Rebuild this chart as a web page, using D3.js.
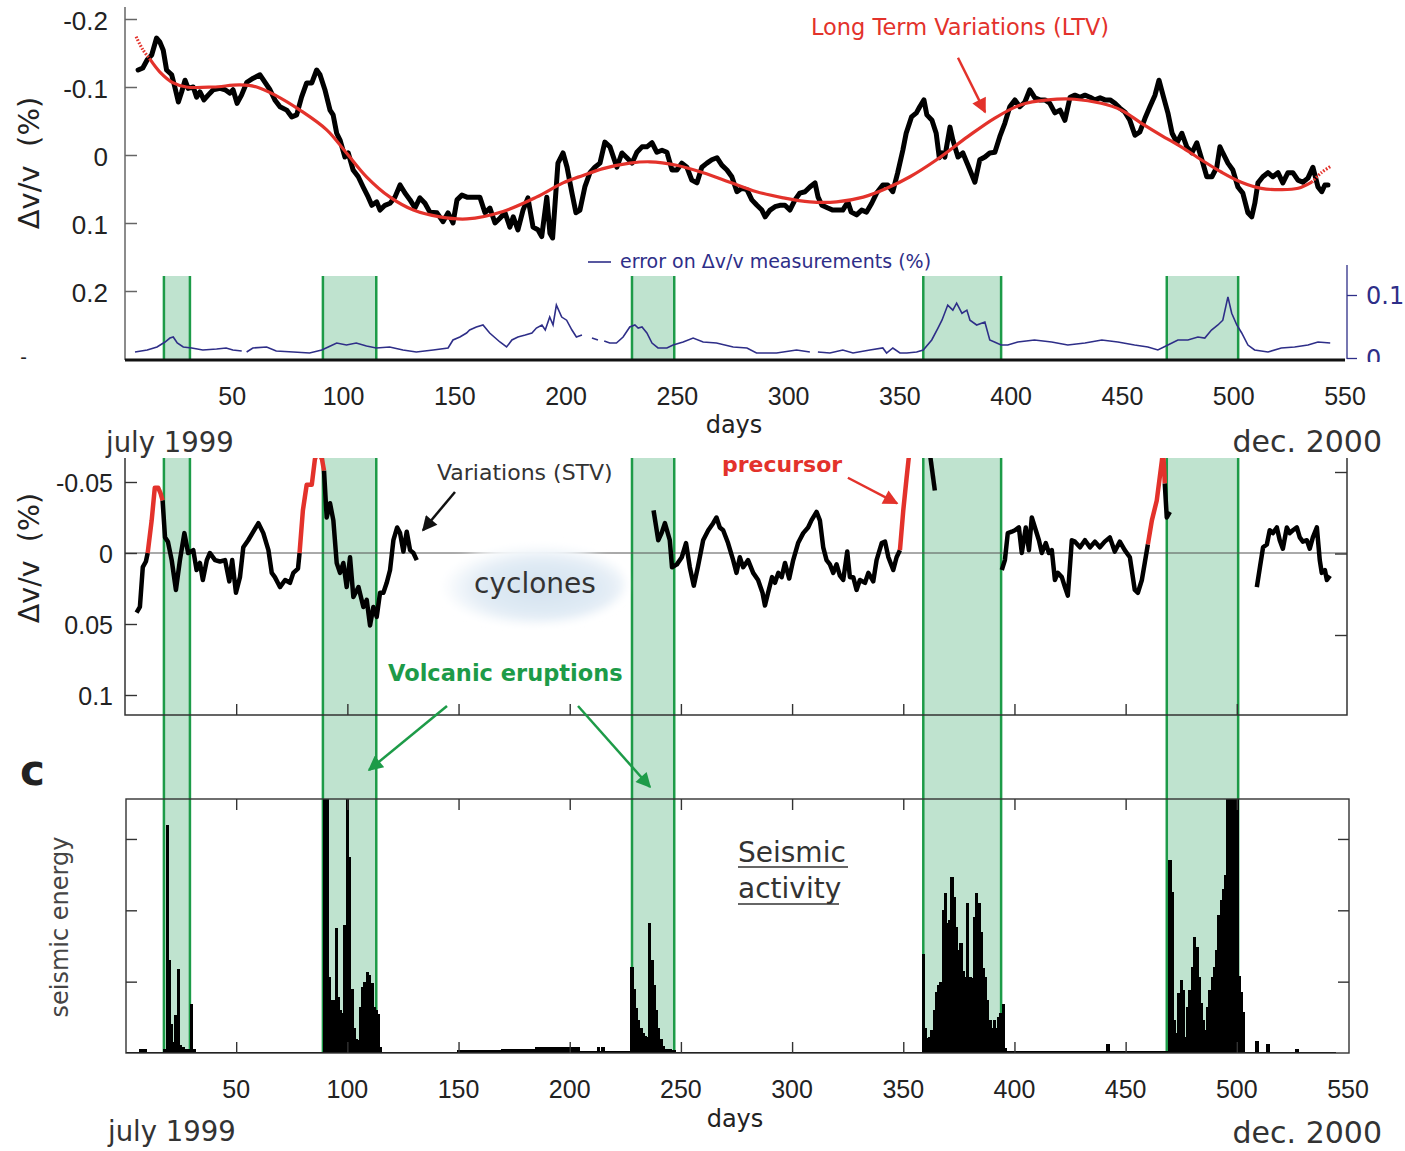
<!DOCTYPE html>
<html>
<head>
<meta charset="utf-8">
<script src="https://cdn.jsdelivr.net/npm/d3@7"></script>
<style>
  body { margin: 0; background: #fff; }
  svg { display: block; }
</style>
</head>
<body>
<svg id="chart"></svg>
<script>
// ---------- data ----------
const dayTicks = [50, 100, 150, 200, 250, 300, 350, 400, 450, 500, 550];
const topYTicks = [-0.2, -0.1, 0, 0.1, 0.2];
const midYTicks = [-0.05, 0, 0.05, 0.1];

// volcanic eruption periods [start day, end day]
const eruptions = [[17.5, 29.2], [89, 113], [228, 247], [359, 394], [468.5, 500.6]];

// dv/v measurements (%) [day, value]
const dvv = [[5.9,-0.125],[8,-0.128],[10,-0.14],[12,-0.147],[14.2,-0.172],[15.7,-0.166],[17.2,-0.154],[18.7,-0.125],[21,-0.118],[22.4,-0.1],[24,-0.078],[25.5,-0.093],[27,-0.11],[28.4,-0.098],[30.7,-0.1],[32.2,-0.085],[33.7,-0.093],[35.5,-0.081],[37.4,-0.088],[39.7,-0.096],[42.7,-0.098],[45,-0.096],[47.2,-0.091],[48.6,-0.096],[50.4,-0.076],[52.4,-0.088],[54.8,-0.107],[57.7,-0.113],[60.7,-0.118],[62.9,-0.107],[65.2,-0.096],[67.4,-0.081],[69.7,-0.071],[72.7,-0.066],[75,-0.056],[77.2,-0.059],[79.4,-0.085],[81.7,-0.106],[84,-0.106],[86.2,-0.125],[87.7,-0.118],[89.9,-0.096],[92.2,-0.066],[93.6,-0.059],[95.2,-0.032],[96.7,-0.022],[98.9,0.003],[100.4,-0.003],[102.6,0.022],[104.9,0.032],[107.1,0.047],[109.4,0.062],[111,0.074],[113.2,0.069],[114.7,0.081],[116.9,0.074],[119.2,0.071],[121.4,0.062],[123.7,0.044],[125.9,0.056],[128.2,0.066],[130.4,0.078],[132.6,0.063],[134.9,0.071],[137.1,0.084],[140.3,0.085],[143,0.098],[145.3,0.085],[147.5,0.1],[149.3,0.066],[151.5,0.059],[153.8,0.062],[157,0.062],[159.6,0.062],[161.9,0.085],[164.1,0.078],[166.4,0.1],[168.6,0.093],[170.9,0.085],[173.1,0.106],[174.6,0.091],[176.7,0.11],[179,0.081],[181.2,0.063],[183.5,0.106],[185.7,0.11],[187.4,0.12],[189.7,0.062],[191.1,0.115],[192.3,0.122],[194.7,0.012],[197,-0.003],[198.8,0.018],[201,0.056],[202.8,0.085],[204.6,0.081],[206.8,0.047],[209.1,0.026],[211.3,0.018],[213.6,0.012],[215.8,-0.019],[218.1,-0.012],[221.2,0.018],[223.5,-0.003],[225.7,0.004],[228,0.012],[230.2,-0.004],[232.5,-0.012],[234.7,-0.012],[237,-0.018],[239.2,-0.004],[241.5,-0.007],[243.7,-0.004],[246,0.022],[248.2,0.022],[250.4,0.012],[252.7,0.018],[254.9,0.037],[257.2,0.041],[259.4,0.018],[261.7,0.012],[263.9,0.007],[266.2,0.004],[268.4,0.015],[270.7,0.022],[272.9,0.032],[275.2,0.054],[277.4,0.049],[279.7,0.051],[281.9,0.066],[284.2,0.074],[286.4,0.081],[287.9,0.091],[290.1,0.081],[292.3,0.076],[294.5,0.074],[296.8,0.074],[299,0.081],[301.3,0.066],[303.5,0.056],[305.8,0.054],[308,0.047],[310.3,0.041],[311.7,0.062],[313.4,0.074],[316.1,0.078],[318.3,0.081],[320.6,0.081],[322.8,0.081],[325.1,0.069],[326.6,0.084],[329,0.088],[331.3,0.081],[333.5,0.084],[335.8,0.071],[338,0.056],[340.8,0.044],[343,0.044],[345.3,0.054],[347.5,0.026],[349.8,-0.007],[351.3,-0.032],[353.7,-0.056],[355.9,-0.062],[357.4,-0.071],[359.3,-0.081],[360.6,-0.059],[362.9,-0.051],[364.8,-0.032],[366.2,0.004],[367.5,-0.003],[368.7,0.003],[371,-0.041],[372.3,-0.022],[374.6,0.003],[376.8,-0.003],[379.1,0.015],[382.2,0.04],[384.4,0.007],[386.7,0.003],[388.9,-0.003],[391.2,-0.004],[393.4,-0.027],[395.7,-0.047],[397.9,-0.071],[400.2,-0.081],[402.4,-0.071],[404.7,-0.078],[406.9,-0.096],[409.2,-0.084],[411.4,-0.081],[413.7,-0.081],[415.9,-0.076],[418.2,-0.062],[420.5,-0.066],[422.7,-0.051],[425,-0.085],[427.2,-0.088],[429.5,-0.085],[431.7,-0.088],[434,-0.085],[436.2,-0.081],[438.5,-0.084],[440.7,-0.081],[443,-0.081],[445.2,-0.076],[447.4,-0.069],[449.7,-0.063],[451.9,-0.051],[454.2,-0.029],[456.4,-0.034],[458.7,-0.054],[460.9,-0.071],[463.2,-0.088],[465,-0.11],[466.8,-0.088],[469,-0.062],[470.9,-0.032],[473.1,-0.018],[475.3,-0.032],[477.5,-0.012],[479.8,-0.003],[482,-0.018],[484.3,0.007],[486.5,0.032],[488.8,0.032],[491,0.018],[492.4,-0.012],[493.7,-0.003],[496,0.012],[498.2,0.022],[500.5,0.047],[502.7,0.056],[505,0.085],[506.7,0.091],[508.1,0.071],[509.5,0.041],[511.7,0.032],[514,0.026],[516.2,0.032],[518.5,0.026],[520.7,0.041],[523,0.026],[525.2,0.026],[527.5,0.037],[529.7,0.04],[532,0.034],[534.2,0.018],[536.5,0.047],[538.2,0.054],[539.6,0.044],[541,0.044]];

// long term variations (LTV) [day, value]
const ltv = [[5,-0.174],[8,-0.155],[11,-0.142],[15.7,-0.122],[21.7,-0.106],[27.6,-0.1],[39.7,-0.1],[51.7,-0.103],[59.2,-0.1],[68.1,-0.087],[78.7,-0.066],[90.7,-0.037],[99.6,-0.003],[108.6,0.032],[119.2,0.062],[129.7,0.081],[141.6,0.091],[153.8,0.094],[170,0.083],[185,0.062],[197,0.041],[206,0.03],[215,0.02],[227,0.012],[236,0.01],[248,0.015],[260,0.026],[272,0.04],[284,0.054],[296,0.063],[308,0.069],[320,0.069],[332,0.062],[342.6,0.049],[353,0.032],[365,0.007],[379,-0.027],[391,-0.054],[403,-0.074],[415,-0.081],[427,-0.082],[439,-0.076],[448,-0.066],[457,-0.047],[466,-0.029],[475,-0.012],[484,0.007],[493,0.025],[502,0.04],[511,0.049],[520,0.051],[527.6,0.049],[533.7,0.04],[538,0.026],[542,0.017]];

// error on dv/v measurements (%), pieces with gaps
const errSegments = [
  [[4.5,0.0095],[10,0.0127],[14.4,0.0175],[18,0.0254],[20.2,0.0317],[21.7,0.0333],[23.5,0.0238],[26.2,0.0175],[30,0.0159],[35,0.0127],[41.2,0.0143],[45.5,0.0159],[48.5,0.0127],[52.5,0.0111]],
  [[54.7,0.0095],[57.5,0.0159],[63.7,0.0175],[68,0.0111],[75.7,0.0095],[83,0.0079],[88.5,0.0127],[91.4,0.0175],[95.2,0.0238],[99.6,0.0206],[104,0.0238],[108.6,0.019],[113,0.0159],[119,0.0175],[125,0.0127],[131,0.0095],[138.6,0.0127],[145.3,0.0159],[147.5,0.0286],[150.6,0.0333],[153.6,0.0397],[155,0.0444],[158,0.0492],[161,0.0524],[164,0.0397],[168.6,0.0254],[171.6,0.0175],[174,0.0286],[176.7,0.0333],[180,0.0365],[183,0.0397],[185,0.0476],[187.5,0.0524],[189,0.0444],[191,0.065],[192.5,0.0524],[194,0.084],[196.4,0.065],[198.6,0.06],[201,0.0444],[203,0.0333],[205.5,0.0365]],
  [[210,0.0317],[212.7,0.0286]],
  [[215.5,0.027],[218,0.0238],[221,0.0238],[224,0.0333],[227,0.0492],[229.3,0.0524],[230.8,0.0476],[232.5,0.0492],[234.7,0.0397],[237,0.0238],[239.7,0.0159],[243.7,0.0159],[246.5,0.0206],[251,0.0254],[255.5,0.0317],[260,0.0254],[266,0.0238],[273.5,0.0175],[279.7,0.0159],[284,0.0079],[293,0.0079],[302,0.0127],[308,0.0095]],
  [[311.6,0.0095],[317,0.0079],[322.8,0.0127],[327.4,0.0079],[335,0.0127],[340.8,0.0159],[342.5,0.0079],[345.3,0.0159],[348.5,0.0079],[351.6,0.0079],[356,0.0095],[359,0.0127],[362.8,0.0286],[365.6,0.0476],[367.4,0.06],[370,0.084],[372.3,0.076],[374,0.087],[376.4,0.071],[378.6,0.076],[380,0.06],[383,0.0524],[386.7,0.057],[388.9,0.0286],[391,0.0254],[394,0.0206],[397,0.0206],[401.5,0.0254],[409,0.0286],[416.7,0.0254],[424,0.0206],[431.7,0.0238],[439.3,0.0286],[446.5,0.0254],[454,0.0206],[460,0.0175],[464.5,0.0127],[469,0.0206],[473.5,0.0286],[478,0.0286],[482.5,0.0333],[485.6,0.0317],[488.6,0.0444],[491.5,0.0524],[493.7,0.06],[496,0.097],[497.7,0.071],[500,0.0524],[502.2,0.0397],[505,0.0206],[508,0.0127],[514,0.0095],[520,0.0159],[526,0.0175],[532,0.0206],[536.5,0.0254],[542,0.0238]]
];

// short term variations (STV), black pieces
const stvBlack = [
  [[5.2,0.042],[6.7,0.038],[8,0.01],[9.4,0.006],[10.2,0]],
  [[16.9,-0.037],[18,-0.011],[19.3,-0.008],[21,0.005],[22.9,0.026],[24.7,0.005],[26.7,-0.014],[28.4,0],[30.7,-0.002],[32.2,0.012],[33.7,0.007],[35,0.019],[36.8,0.005],[38.2,0],[40.5,0.005],[42.7,0.006],[45,0.005],[46.9,0.02],[48.2,0.005],[49.9,0.028],[51.7,0.017],[53.2,-0.004],[55.4,-0.009],[57.7,-0.015],[60,-0.021],[62.2,-0.014],[64.5,-0.002],[66,0.014],[67.4,0.017],[69.7,0.024],[72,0.019],[74.2,0.021],[75.7,0.014],[77.8,0.011],[78.5,0]],
  [[89.5,-0.058],[90.7,-0.025],[92.2,-0.035],[93.7,-0.023],[95.2,0.007],[96.7,0.014],[98.2,0.007],[99.7,0.024],[101.2,0.003],[102.7,0.031],[105,0.024],[107.2,0.038],[108.7,0.033],[110.2,0.051],[111.7,0.038],[113.2,0.045],[114.7,0.028],[116.2,0.028],[117.7,0.021],[119.2,0.012],[120.7,-0.009],[122.4,-0.018],[123.7,-0.014],[125.2,-0.001],[126.7,-0.015],[128.2,-0.002],[129.7,0],[131.2,0.005]],
  [[237.7,-0.03],[239.8,-0.009],[241.3,-0.014],[242.8,-0.021],[245,-0.009],[246,0.01],[248.2,0.008],[250.4,0.003],[252.3,-0.007],[254,0.01],[255.8,0.023],[257.6,0.01],[260,-0.009],[262.3,-0.016],[264.5,-0.021],[266,-0.025],[267.5,-0.018],[269,-0.016],[271.2,-0.007],[273.5,0.005],[275,0.014],[276.5,0.003],[278,0.01],[280.2,0.005],[282.5,0.014],[284.7,0.019],[286.7,0.028],[287.8,0.037],[289.2,0.028],[291,0.017],[292.3,0.021],[293.8,0.014],[295.3,0.017],[296.8,0.007],[298.7,0.018],[300.5,0.005],[302.7,-0.007],[305,-0.014],[307.2,-0.018],[308.7,-0.023],[311,-0.029],[312.5,-0.023],[314,-0.004],[315.5,0.005],[317,0.008],[318.5,0.014],[320,0.008],[321.5,0.016],[323,0.019],[324.8,-0.001],[326,0.017],[327.5,0.017],[329,0.026],[330.5,0.019],[332.8,0.021],[334.3,0.014],[336.5,0.02],[338,0.005],[340.3,-0.007],[341.8,-0.008],[343.3,0.003],[345.5,0.012],[347,0.003],[348.5,-0.002]],
  [[361.8,-0.072],[364.2,-0.044]],
  [[394.3,0.012],[395.7,0.005],[397,-0.014],[398.8,-0.015],[400.2,-0.016],[402,-0.018],[403.3,0],[405.1,-0.018],[406.5,-0.002],[407.8,-0.025],[409.6,-0.016],[411,-0.009],[412.3,0],[414.1,-0.007],[415.5,0],[416.8,-0.002],[418.2,0.019],[419.5,0.014],[421.3,0.017],[422.7,0.024],[424,0.03],[425.8,-0.009],[427.2,-0.008],[429.5,-0.004],[431.7,-0.009],[434,-0.004],[436.2,-0.008],[438.4,-0.004],[440.6,-0.008],[442.9,-0.011],[445.1,-0.001],[447.4,-0.008],[449.6,-0.002],[451.9,0.003],[454.1,0.026],[455.5,0.028],[457.3,0.019],[458.6,0.007],[460,-0.006]],
  [[467.6,-0.049],[468.5,-0.025],[469.9,-0.029]],
  [[509,0.024],[510.4,0.01],[511.8,-0.004],[513.5,-0.006],[514.8,-0.016],[516.2,-0.014],[518,-0.018],[519.3,-0.009],[520.7,-0.003],[522.5,-0.018],[523.8,-0.014],[525.2,-0.016],[527,-0.018],[528.3,-0.011],[529.7,-0.008],[531.5,-0.009],[532.8,-0.003],[534.2,-0.011],[536,-0.018],[537.3,0.005],[538.2,0.014],[539.6,0.012],[540.5,0.019],[541.9,0.016]]
];

// STV precursor pieces (red)
const stvPrecursor = [
  [[10.2,0],[12,-0.023],[13.4,-0.046],[14.9,-0.046],[16,-0.042],[16.9,-0.037]],
  [[78.5,0],[80,-0.03],[81.7,-0.048],[84,-0.048],[85.4,-0.066],[86.9,-0.072],[88.6,-0.066],[89.5,-0.058]],
  [[348.5,-0.002],[350,-0.03],[351.5,-0.053],[352.8,-0.072]],
  [[460,-0.006],[461.8,-0.023],[464,-0.037],[466.3,-0.065],[466.8,-0.072],[467.3,-0.06],[467.6,-0.049]]
];

// seismic energy (arbitrary units): eruption bursts [first day, daily values]
const seisBursts = [
  [18, [0.05, 3.2, 1.3, 0.4, 0.15, 0.53, 1.18, 0.11, 0.08, 0.06, 0.06, 0.05, 0.69, 0.05]],
  [90, [4, 4, 1.07, 0.74, 0.74, 1.75, 0.78, 0.6, 0.56, 1.8, 4, 2.75, 0.9, 0.35, 0.2, 0.18, 0.65, 0.93, 1.0, 1.13, 1.1, 0.98, 0.65, 0.6, 0.55, 0.08]],
  [228, [1.21, 0.9, 0.63, 0.46, 0.35, 0.28, 0.24, 0.22, 1.82, 1.3, 0.95, 0.6, 0.35, 0.2, 0.1, 0.06, 0.05, 0.05, 0.04, 0.04]],
  [359, [1.39, 0.35, 0.21, 0.22, 0.32, 0.6, 0.85, 0.95, 1.0, 2.0, 2.24, 1.82, 1.86, 2.47, 2.19, 1.77, 1.44, 1.54, 1.15, 1.07, 2.1, 1.07, 1.05, 1.9, 2.24, 2.1, 1.7, 1.19, 1.07, 0.74, 0.46, 0.35, 0.46, 0.35, 0.5, 0.56, 0.69, 0.07]],
  [470, [2.7, 2.25, 0.46, 0.28, 0.84, 1.02, 0.88, 0.22, 0.64, 0.88, 1.2, 1.62, 1.48, 1.06, 0.7, 0.46, 0.32, 0.64, 0.88, 1.06, 1.2, 1.44, 1.93, 2.14, 2.3, 2.49, 4, 4, 4, 4, 4, 1.08, 0.86, 0.58]]
];
// background level [from day, to day, level]
const seisLow = [[0,7,0.02],[7,10,0.06],[10,18,0.02],[32,90,0.02],[116,150,0.02],[150,170,0.04],[170,185,0.05],[185,205,0.08],[205,228,0.03],[248,359,0.02],[397,470,0.025],[504,545,0.015]];
// isolated events [day, value]
const seisSpikes = [[213,0.09],[215,0.09],[442,0.13],[509,0.17],[514,0.13],[527,0.05]];

// ---------- setup ----------
const FT = '"Liberation Sans", Arial, sans-serif';
const FA = '"DejaVu Sans", sans-serif';
const GREEN = "#1d9b48", GREEN_FILL = "#bfe3cf", RED = "#e3322b", NAVY = "#2e2e88";

const svg = d3.select("#chart").attr("width", 1405).attr("height", 1151);
const defs = svg.append("defs");

const x = d3.scaleLinear().domain([0, 550]).range([125, 1348]);
const xLab = d3.scaleLinear().domain([0, 550]).range([121, 1345]);
const yTop = d3.scaleLinear().domain([-0.2, 0.2]).range([19, 291]);
const yErr = d3.scaleLinear().domain([0, 0.1]).range([358, 295]);
const yMid = d3.scaleLinear().domain([-0.05, 0.1]).range([482, 695]);
const yMidR = d3.scaleLinear().domain([-0.05, 0.05]).range([472, 635]);
const ySeis = d3.scaleLinear().domain([0, 3.56]).range([1053, 799]);

function clip(id, x0, y0, x1, y1) {
  defs.append("clipPath").attr("id", id).append("rect")
    .attr("x", x0).attr("y", y0).attr("width", x1 - x0).attr("height", y1 - y0);
}
clip("clipTop", 125, 0, 1350, 361);
clip("clipMid", 125, 458, 1347, 715);
clip("clipSeis", 126, 799, 1349, 1053);
clip("clipErrLab", 1340, 255, 1405, 362);

function marker(id, color) {
  defs.append("marker").attr("id", id)
    .attr("viewBox", "0 0 10 10").attr("refX", 9).attr("refY", 5)
    .attr("markerWidth", 7).attr("markerHeight", 6).attr("orient", "auto")
    .append("path").attr("d", "M0,0L10,5L0,10z").attr("fill", color);
}
marker("arRed", RED);
marker("arBlack", "#111");
marker("arGreen", GREEN);

const grad = defs.append("radialGradient").attr("id", "cyc")
  .attr("cx", "55%").attr("cy", "55%").attr("r", "55%");
grad.append("stop").attr("offset", "0%").attr("stop-color", "#d2e1ef");
grad.append("stop").attr("offset", "65%").attr("stop-color", "#e2ecf5");
grad.append("stop").attr("offset", "100%").attr("stop-color", "#ffffff");
defs.append("filter").attr("id", "soft").append("feGaussianBlur").attr("stdDeviation", 4);

function txt(g, s, px, py, size, opts = {}) {
  return g.append("text").attr("x", px).attr("y", py)
    .attr("font-family", opts.family || FA).attr("font-size", size)
    .attr("font-weight", opts.weight || "normal")
    .attr("fill", opts.fill || "#222")
    .attr("text-anchor", opts.anchor || "start")
    .text(s);
}

// ---------- eruption bands ----------
const bandG = svg.append("g");
[[276, 360], [458, 1053]].forEach(([y0, y1]) => {
  bandG.append("g").selectAll("rect").data(eruptions).join("rect")
    .attr("x", d => x(d[0])).attr("width", d => x(d[1]) - x(d[0]))
    .attr("y", y0).attr("height", y1 - y0).attr("fill", GREEN_FILL);
  bandG.append("g").selectAll("line").data(eruptions.flat()).join("line")
    .attr("x1", d => x(d)).attr("x2", d => x(d))
    .attr("y1", y0).attr("y2", y1)
    .attr("stroke", GREEN).attr("stroke-width", 2.5);
});

// ---------- top panel ----------
const topG = svg.append("g");
topG.append("line").attr("x1", 125).attr("x2", 125).attr("y1", 7).attr("y2", 360)
  .attr("stroke", "#666").attr("stroke-width", 1.5);
const gTopAxis = topG.append("g").attr("transform", "translate(125,0)")
  .call(d3.axisLeft(yTop).tickValues(topYTicks).tickSize(-12).tickPadding(17)
    .tickFormat(d => d === 0 ? "0" : String(d)));
gTopAxis.select(".domain").remove();
gTopAxis.selectAll("line").attr("stroke", "#666").attr("stroke-width", 1.5);
gTopAxis.selectAll("text").attr("font-family", FT).attr("font-size", 26)
  .attr("fill", "#222").attr("dy", "0.42em");
txt(topG, "-", 23.5, 364, 20, { family: FT, anchor: "middle" });

// error axis (right)
topG.append("line").attr("x1", 1347).attr("x2", 1347).attr("y1", 265).attr("y2", 359)
  .attr("stroke", NAVY).attr("stroke-width", 1.3);
const gErrAxis = topG.append("g").attr("clip-path", "url(#clipErrLab)")
  .append("g").attr("transform", "translate(1347,0)")
  .call(d3.axisRight(yErr).tickValues([0, 0.1]).tickSize(10).tickPadding(9)
    .tickFormat(d => d === 0 ? "0" : String(d)));
gErrAxis.select(".domain").remove();
gErrAxis.selectAll("line").attr("stroke", NAVY).attr("stroke-width", 1.3);
gErrAxis.selectAll("text").attr("font-family", FA)
  .attr("font-size", 24).attr("fill", NAVY).attr("dy", "0.36em");

const topData = topG.append("g").attr("clip-path", "url(#clipTop)");
const lineTop = d3.line().x(d => x(d[0])).y(d => yTop(d[1]));
const lineErr = d3.line().x(d => x(d[0])).y(d => yErr(d[1]));

topData.selectAll("path.err").data(errSegments).join("path")
  .attr("class", "err").attr("d", lineErr)
  .attr("fill", "none").attr("stroke", NAVY).attr("stroke-width", 1.6);

// bottom baseline of top panel
topG.append("line").attr("x1", 125).attr("x2", 1345).attr("y1", 360).attr("y2", 360)
  .attr("stroke", "#111").attr("stroke-width", 3);

topData.append("path").datum(dvv).attr("d", lineTop)
  .attr("fill", "none").attr("stroke", "#000").attr("stroke-width", 5)
  .attr("stroke-linejoin", "round").attr("stroke-linecap", "round");

const lineLtv = d3.line().x(d => x(d[0])).y(d => yTop(d[1])).curve(d3.curveCatmullRom.alpha(0.5));
const ltvHead = ltv.filter(d => d[0] <= 11);
const ltvBody = ltv.filter(d => d[0] >= 11 && d[0] <= 533.7);
const ltvTail = ltv.filter(d => d[0] >= 533.7);
topData.append("path").datum(ltvBody).attr("d", lineLtv)
  .attr("fill", "none").attr("stroke", RED).attr("stroke-width", 3.2);
topData.selectAll("path.ltvdot").data([ltvHead, ltvTail]).join("path")
  .attr("class", "ltvdot").attr("d", lineLtv)
  .attr("fill", "none").attr("stroke", RED).attr("stroke-width", 3.2)
  .attr("stroke-dasharray", "1.6,1.6");

// top annotations
txt(topG, "Long Term Variations (LTV)", 960, 35, 22.5, { fill: RED, anchor: "middle" });
topG.append("line")
  .attr("x1", x(374.6)).attr("y1", yTop(-0.143))
  .attr("x2", x(386.8)).attr("y2", yTop(-0.063))
  .attr("stroke", RED).attr("stroke-width", 2.5).attr("marker-end", "url(#arRed)");
topG.append("line").attr("x1", 588).attr("x2", 611).attr("y1", 262).attr("y2", 262)
  .attr("stroke", NAVY).attr("stroke-width", 1.6);
txt(topG, "error on \u0394v/v measurements (%)", 620, 268, 19, { fill: NAVY });
txt(topG, "\u0394v/v\u00a0\u00a0(%)", 0, 0, 29, { anchor: "middle" })
  .attr("transform", "translate(39,163) rotate(-90)");

topG.selectAll("text.xl").data(dayTicks).join("text").attr("class", "xl")
  .attr("x", d => xLab(d)).attr("y", 405).attr("text-anchor", "middle")
  .attr("font-family", FT).attr("font-size", 25).attr("fill", "#222").text(d => d);
txt(topG, "days", 734, 433, 24, { anchor: "middle" });
txt(topG, "july 1999", 106, 452, 27.5, { fill: "#333" });
txt(topG, "dec. 2000", 1382, 452, 30, { fill: "#333", anchor: "end" });

// ---------- middle panel ----------
const midG = svg.append("g");
midG.append("line").attr("x1", 125).attr("x2", 1347).attr("y1", yMid(0)).attr("y2", yMid(0))
  .attr("stroke", "#555").attr("stroke-width", 1);
midG.append("path").attr("d", "M125,458V715H1347V458")
  .attr("fill", "none").attr("stroke", "#333").attr("stroke-width", 1.5);
const gMidL = midG.append("g").attr("transform", "translate(125,0)")
  .call(d3.axisLeft(yMid).tickValues(midYTicks).tickSize(-12).tickPadding(12)
    .tickFormat(d => d === 0 ? "0" : String(d)));
const gMidR = midG.append("g").attr("transform", "translate(1347,0)")
  .call(d3.axisRight(yMidR).tickValues([-0.05, 0, 0.05]).tickSize(-12).tickFormat(""));
const gMidB = midG.append("g").attr("transform", "translate(0,715)")
  .call(d3.axisBottom(x).tickValues(dayTicks.slice(0, 10)).tickSize(-11).tickFormat(""));
[gMidL, gMidR, gMidB].forEach(g => {
  g.select(".domain").remove();
  g.selectAll("line").attr("stroke", "#333").attr("stroke-width", 1.4);
});
gMidL.selectAll("text").attr("font-family", FT).attr("font-size", 25)
  .attr("fill", "#222").attr("dy", "0.36em");

// cyclones blob
midG.append("ellipse").attr("cx", 533).attr("cy", 584).attr("rx", 92).attr("ry", 39)
  .attr("fill", "url(#cyc)").attr("filter", "url(#soft)");
txt(midG, "cyclones", 535, 593, 28, { fill: "#333", anchor: "middle" });

const midData = midG.append("g").attr("clip-path", "url(#clipMid)");
const lineMid = d3.line().x(d => x(d[0])).y(d => yMid(d[1]));
midData.selectAll("path.stv").data(stvBlack).join("path").attr("class", "stv")
  .attr("d", lineMid).attr("fill", "none").attr("stroke", "#000").attr("stroke-width", 4.5)
  .attr("stroke-linejoin", "round");
midData.selectAll("path.pre").data(stvPrecursor).join("path").attr("class", "pre")
  .attr("d", lineMid).attr("fill", "none").attr("stroke", RED).attr("stroke-width", 4.5)
  .attr("stroke-linejoin", "round");

txt(midG, "Variations (STV)", 437, 480, 22, { fill: "#333" });
midG.append("line")
  .attr("x1", x(148.4)).attr("y1", yMid(-0.043))
  .attr("x2", x(134)).attr("y2", yMid(-0.016))
  .attr("stroke", "#111").attr("stroke-width", 2.5).attr("marker-end", "url(#arBlack)");
txt(midG, "precursor", 722, 472, 22, { fill: RED, weight: "bold" });
midG.append("line")
  .attr("x1", x(325.1)).attr("y1", yMid(-0.053))
  .attr("x2", x(347.2)).attr("y2", yMid(-0.035))
  .attr("stroke", RED).attr("stroke-width", 2.5).attr("marker-end", "url(#arRed)");
txt(midG, "\u0394v/v\u00a0\u00a0(%)", 0, 0, 28.5, { anchor: "middle" })
  .attr("transform", "translate(39,558) rotate(-90)");

txt(midG, "Volcanic eruptions", 388, 681, 22.5, { fill: GREEN, weight: "bold" });
midG.append("line").attr("x1", 447).attr("y1", 706).attr("x2", 369).attr("y2", 770)
  .attr("stroke", GREEN).attr("stroke-width", 2.5).attr("marker-end", "url(#arGreen)");
midG.append("line").attr("x1", 578).attr("y1", 706).attr("x2", 650).attr("y2", 787)
  .attr("stroke", GREEN).attr("stroke-width", 2.5).attr("marker-end", "url(#arGreen)");
txt(midG, "c", 20, 785, 42, { weight: "bold", fill: "#222" });

// ---------- bottom panel: seismic energy ----------
const botG = svg.append("g");
const seisBars = [];
seisLow.forEach(([a, b, v]) => { for (let d = a; d < b; d++) seisBars.push({ day: d, v }); });
seisBursts.forEach(([start, vals]) => vals.forEach((v, i) => seisBars.push({ day: start + i, v })));
seisSpikes.forEach(([day, v]) => seisBars.push({ day, v }));
// taller bars last so their neighbours never cover them
seisBars.sort((a, b) => a.v - b.v);

const dayW = x(1) - x(0);
botG.append("g").attr("clip-path", "url(#clipSeis)")
  .selectAll("rect").data(seisBars).join("rect")
  .attr("x", d => x(d.day - 0.5) - 0.6).attr("width", dayW + 1.2)
  .attr("y", d => ySeis(d.v)).attr("height", d => ySeis(0) - ySeis(d.v))
  .attr("fill", "#000").attr("shape-rendering", "crispEdges");

botG.append("rect").attr("x", 126).attr("y", 799).attr("width", 1223).attr("height", 254)
  .attr("fill", "none").attr("stroke", "#333").attr("stroke-width", 1.4);
const gBT = botG.append("g").attr("transform", "translate(0,799)")
  .call(d3.axisTop(x).tickValues(dayTicks.slice(0, 10)).tickSize(-11).tickFormat(""));
const gBB = botG.append("g").attr("transform", "translate(0,1053)")
  .call(d3.axisBottom(x).tickValues(dayTicks.slice(0, 10)).tickSize(-11).tickFormat(""));
const gBL = botG.append("g").attr("transform", "translate(126,0)")
  .call(d3.axisLeft(ySeis).tickValues([1, 2, 3]).tickSize(-11).tickFormat(""));
const gBR = botG.append("g").attr("transform", "translate(1349,0)")
  .call(d3.axisRight(ySeis).tickValues([1, 2, 3]).tickSize(-11).tickFormat(""));
[gBT, gBB, gBL, gBR].forEach(g => {
  g.select(".domain").remove();
  g.selectAll("line").attr("stroke", "#333").attr("stroke-width", 1.4);
});

txt(botG, "Seismic", 738, 862, 28, { fill: "#333" });
txt(botG, "activity", 738, 898, 28, { fill: "#333" });
botG.append("line").attr("x1", 738).attr("x2", 848).attr("y1", 867).attr("y2", 867)
  .attr("stroke", "#333").attr("stroke-width", 1.5);
botG.append("line").attr("x1", 738).attr("x2", 839).attr("y1", 904).attr("y2", 904)
  .attr("stroke", "#333").attr("stroke-width", 1.5);
txt(botG, "seismic energy", 0, 0, 24, { fill: "#444", anchor: "middle" })
  .attr("transform", "translate(68,927) rotate(-90)");

botG.selectAll("text.xl").data(dayTicks).join("text").attr("class", "xl")
  .attr("x", d => x(d)).attr("y", 1098).attr("text-anchor", "middle")
  .attr("font-family", FT).attr("font-size", 25).attr("fill", "#222").text(d => d);
txt(botG, "days", 735, 1127, 24, { anchor: "middle" });
txt(botG, "july 1999", 108, 1141, 27.5, { fill: "#333" });
txt(botG, "dec. 2000", 1382, 1143, 30, { fill: "#333", anchor: "end" });
</script>
</body>
</html>
